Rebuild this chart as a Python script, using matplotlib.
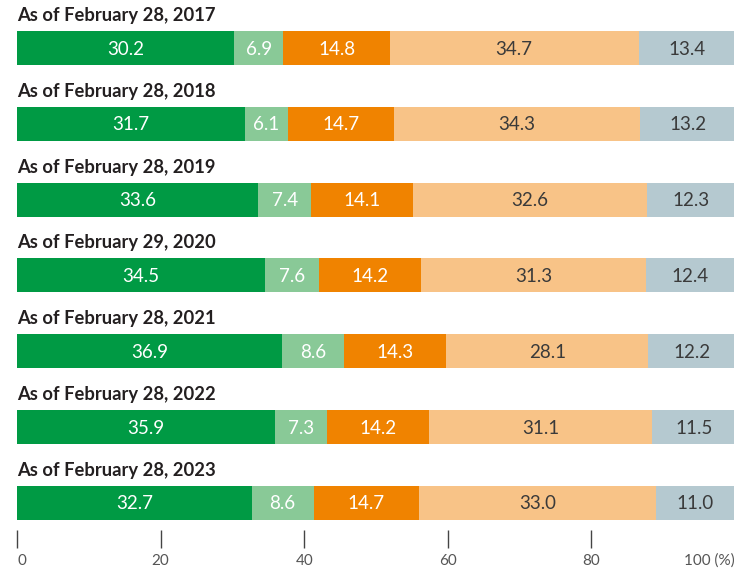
import matplotlib.pyplot as plt
import numpy as np

titles = ["As of February 28, 2017", "As of February 28, 2018", "As of February 28, 2019",
          "As of February 29, 2020", "As of February 28, 2021", "As of February 28, 2022",
          "As of February 28, 2023"]

seg1 = [30.2, 31.7, 33.6, 34.5, 36.9, 35.9, 32.7]
seg2 = [6.9, 6.1, 7.4, 7.6, 8.6, 7.3, 8.6]
seg3 = [14.8, 14.7, 14.1, 14.2, 14.3, 14.2, 14.7]
seg4 = [34.7, 34.3, 32.6, 31.3, 28.1, 31.1, 33.0]
seg5 = [13.4, 13.2, 12.3, 12.4, 12.2, 11.5, 11.0]

xticks = [0, 20, 40, 60, 80, 100]
xticklabels = ["0", "20", "40", "60", "80", "100 (%)"]

colors = ["#009a44", "#89c997", "#f08300", "#f8c387", "#b5c9d0"]
text_colors = ["white", "white", "white", "#3a3a3a", "#3a3a3a"]

W, H = 734, 569
fig = plt.figure(figsize=(W / 100, H / 100), dpi=100)
ax = fig.add_axes([17 / W, 0, (735 - 17) / W, 1])
ax.set_xlim(0, 100)
ax.set_ylim(H, 0)

series = [seg1, seg2, seg3, seg4, seg5]
for i, title in enumerate(titles):
    yc = 48 + 75.8 * i
    left = 0
    for k, s in enumerate(series):
        v = s[i]
        ax.barh(yc, v, left=left, height=34, color=colors[k], linewidth=0)
        ax.text(left + v / 2, yc + 1, f"{v:.1f}", ha="center", va="center",
                color=text_colors[k], fontsize=13.5, family="Lato", weight="normal")
        left += v
    ax.text(0, yc - 24, title, ha="left", va="bottom", fontsize=13.2,
            family="Lato", weight="bold", color="#231f20")

for sp in ["top", "right", "left"]:
    ax.spines[sp].set_visible(False)
ax.spines["bottom"].set_position(("data", 530))
ax.spines["bottom"].set_visible(False)
ax.set_yticks([])
ax.set_xticks(xticks)
ax.set_xticklabels(xticklabels, family="Lato", fontsize=11, color="#555555")
ax.tick_params(axis="x", direction="out", length=13, width=1, color="#444444", pad=4)
labels = ax.get_xticklabels()
labels[0].set_ha("left")
labels[-1].set_ha("right")

fig.savefig("out.png", dpi=100)
